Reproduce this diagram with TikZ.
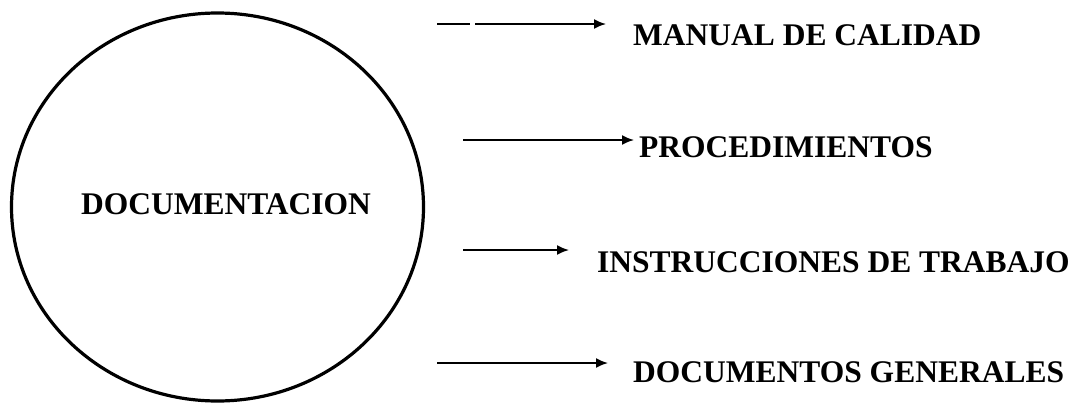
\documentclass[tikz,border=0pt]{standalone}
\usepackage{fontspec}
\setmainfont{Liberation Serif}
\usetikzlibrary{arrows.meta}
\begin{document}
\begin{tikzpicture}[x=1pt,y=-1pt,
  lbl/.style={anchor=base west,inner sep=0pt,font=\fontsize{31.5}{36}\selectfont\bfseries},
  conn/.style={line width=1.8pt,-{Latex[length=12pt,width=10pt]}}]
\useasboundingbox (0,0) rectangle (1075,407);
\draw[line width=3.2pt] (217.5,207) ellipse [x radius=206,y radius=194];
\node[anchor=base,inner sep=0pt,font=\fontsize{31.5}{36}\selectfont\bfseries] (doc) at (226,214) {DOCUMENTACION};
\node[lbl] (manual) at (633,45) {MANUAL DE CALIDAD};
\node[lbl] (proc) at (639,157) {PROCEDIMIENTOS};
\node[lbl] (instr) at (597,272) {INSTRUCCIONES DE TRABAJO};
\node[lbl] (gen) at (633,382) {DOCUMENTOS GENERALES};
\coordinate (a1) at (437,24); \coordinate (b1) at (606,24);
\coordinate (a2) at (463,140); \coordinate (b2) at (634,140);
\coordinate (a3) at (463,250); \coordinate (b3) at (569,250);
\coordinate (a4) at (437,363); \coordinate (b4) at (608,363);
\draw[conn,dash pattern=on 33pt off 5pt on 400pt] (a1) -- (b1);
\draw[conn] (a2) -- (b2);
\draw[conn] (a3) -- (b3);
\draw[conn] (a4) -- (b4);
\end{tikzpicture}
\end{document}
